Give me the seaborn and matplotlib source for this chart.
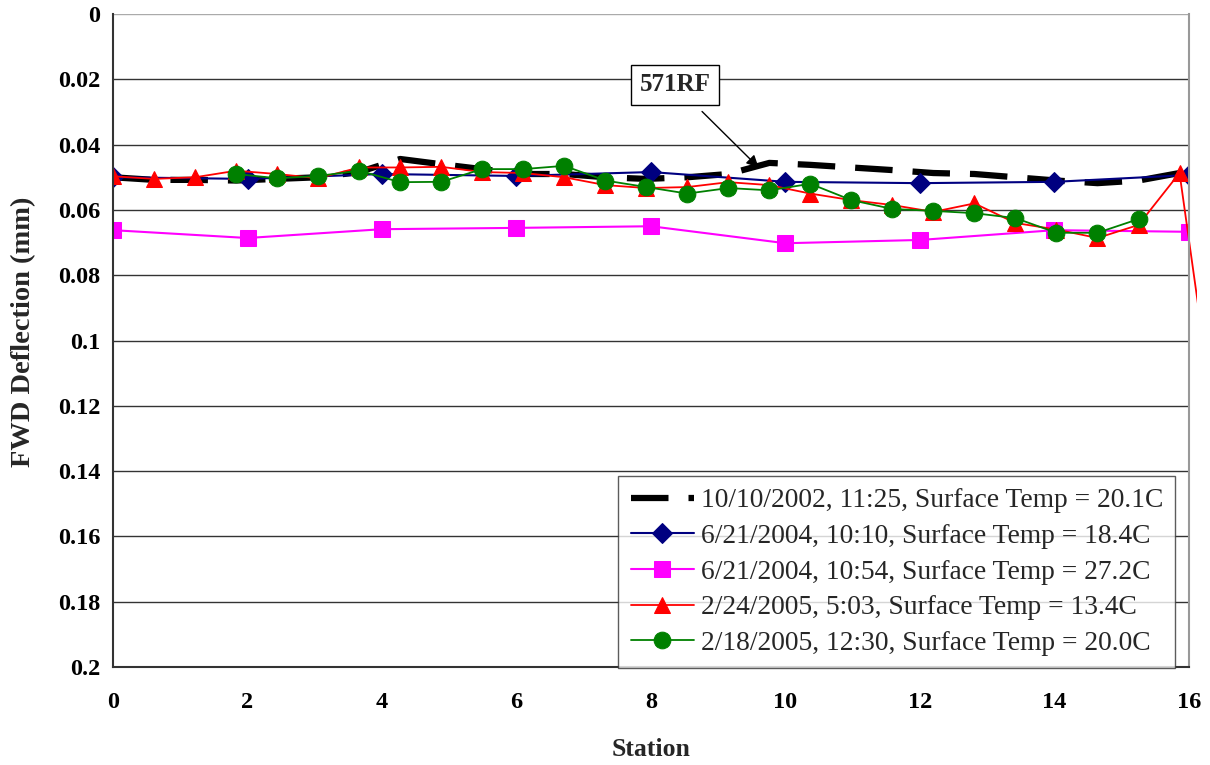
import numpy as np
import pandas as pd
import seaborn as sns
import matplotlib.pyplot as plt
from matplotlib.patches import Rectangle

# station positions
stations_fine = [round(0.61 * i, 2) for i in range(27)]
stations_coarse = [0, 2, 4, 6, 8, 10, 12, 14, 16]

labels = [
    "10/10/2002, 11:25, Surface Temp = 20.1C",
    "6/21/2004, 10:10, Surface Temp = 18.4C",
    "6/21/2004, 10:54, Surface Temp = 27.2C",
    "2/24/2005, 5:03, Surface Temp = 13.4C",
    "2/18/2005, 12:30, Surface Temp = 20.0C",
]

defl_2002 = [0.0500, 0.0508, 0.0508, 0.0510, 0.0505, 0.0500, 0.0484, 0.0444, 0.0460,
             0.0475, 0.0490, 0.0490, 0.0500, 0.0505, 0.0500, 0.0490, 0.0456, 0.0462,
             0.0470, 0.0478, 0.0487, 0.0490, 0.0500, 0.0510, 0.0518, 0.0510, 0.0487]
defl_2004a = [0.0500, 0.0505, 0.0490, 0.0496, 0.0484, 0.0514, 0.0518, 0.0514, 0.0493]
defl_2004b = [0.0662, 0.0686, 0.0659, 0.0655, 0.0650, 0.0702, 0.0692, 0.0662, 0.0667]
# last red reading lies past station 16
red_x = stations_fine + [16.47]
defl_2005a = [0.0497, 0.0505, 0.0500, 0.0480, 0.0490, 0.0503, 0.0470, 0.0470, 0.0468,
              0.0484, 0.0487, 0.0500, 0.0524, 0.0533, 0.0530, 0.0515, 0.0524, 0.0550,
              0.0570, 0.0585, 0.0606, 0.0580, 0.0640, 0.0660, 0.0686, 0.0646, 0.0487,
              0.1380]
green_x = stations_fine[3:26]
defl_2005b = [0.0490, 0.0503, 0.0496, 0.0480, 0.0515, 0.0514, 0.0475, 0.0475, 0.0465,
              0.0510, 0.0530, 0.0550, 0.0533, 0.0540, 0.0520, 0.0570, 0.0597, 0.0603,
              0.0610, 0.0625, 0.0670, 0.0670, 0.0628]

yticks = [0, 0.02, 0.04, 0.06, 0.08, 0.1, 0.12, 0.14, 0.16, 0.18, 0.2]
ytick_labels = ["0", "0.02", "0.04", "0.06", "0.08", "0.1", "0.12", "0.14", "0.16", "0.18", "0.2"]
xticks = [0, 2, 4, 6, 8, 10, 12, 14, 16]

sns.set_theme(style="white")
plt.rcParams['font.family'] = ['Liberation Serif', 'DejaVu Serif']

fig, ax = plt.subplots(figsize=(12.1, 7.65), dpi=100)
fig.subplots_adjust(left=0.0934, right=0.9826, top=0.9817, bottom=0.128)

sns.lineplot(x=stations_fine, y=defl_2002, ax=ax, color="black", linewidth=4.5,
             label=labels[0], sort=False)
ax.lines[-1].set_dashes([6.0, 3.2])
sns.lineplot(x=stations_coarse, y=defl_2004a, ax=ax, color="#000080", linewidth=1.5,
             marker="D", markersize=10, markeredgecolor="#000080", label=labels[1], sort=False)
sns.lineplot(x=stations_coarse, y=defl_2004b, ax=ax, color="#FF00FF", linewidth=1.5,
             marker="s", markersize=11, markeredgecolor="#FF00FF", label=labels[2], sort=False)
sns.lineplot(x=red_x, y=defl_2005a, ax=ax, color="#FF0000", linewidth=1.3,
             marker="^", markersize=12, markeredgecolor="#FF0000", label=labels[3], sort=False)
red_line = ax.lines[-1]
sns.lineplot(x=green_x, y=defl_2005b, ax=ax, color="#008000", linewidth=1.3,
             marker="o", markersize=12, markeredgecolor="#008000", label=labels[4], sort=False)

ax.set_xlim(0, 16)
ax.set_ylim(0.2, 0)

# red line runs slightly past the plot edge as in the original
clip = Rectangle((0, 0), 1.0075, 1, transform=ax.transAxes)
red_line.set_clip_path(clip)

ax.set_yticks(yticks)
ax.set_yticklabels(ytick_labels)
ax.set_xticks(xticks)
ax.tick_params(axis="both", labelsize=17.5, direction="out", length=6, width=1,
               colors="#333333", labelcolor="black")
ax.tick_params(axis="x", pad=12)
ax.tick_params(axis="y", pad=3)
for lab in ax.get_xticklabels() + ax.get_yticklabels():
    lab.set_fontweight("bold")

ax.yaxis.grid(True, color="#333333", linewidth=1)
ax.xaxis.grid(False)
ax.set_axisbelow(True)
ax.get_ygridlines()[0].set_color("#aaaaaa")
for side in ["left", "bottom"]:
    ax.spines[side].set_color("#333333")
    ax.spines[side].set_linewidth(1.5)
ax.spines["top"].set_visible(False)
ax.spines["right"].set_color("#999999")
ax.spines["right"].set_linewidth(1.5)

ax.set_xlabel("Station", fontsize=18.5, fontweight="bold", labelpad=18)
ax.set_ylabel("FWD Deflection (mm)", fontsize=20.5, fontweight="bold")
ax.yaxis.set_label_coords(-0.0716, 0.513)

ax.annotate("571RF", xy=(9.6, 0.0470), xytext=(8.36, 0.0217),
            fontsize=18, fontweight="bold", ha="center", va="center",
            bbox=dict(boxstyle="square,pad=0.35", fc="white", ec="black", lw=1),
            arrowprops=dict(arrowstyle="-|>", color="black", lw=1, shrinkA=6, shrinkB=0))

leg = ax.legend(loc="lower right", bbox_to_anchor=(0.9875, -0.002), fontsize=19.8,
                frameon=True, fancybox=False, edgecolor="#333333", handlelength=2.3,
                handletextpad=0.25, borderpad=0.45, labelspacing=0.38, borderaxespad=0)
leg.get_frame().set_linewidth(1)

fig.savefig("out.png", dpi=100)
